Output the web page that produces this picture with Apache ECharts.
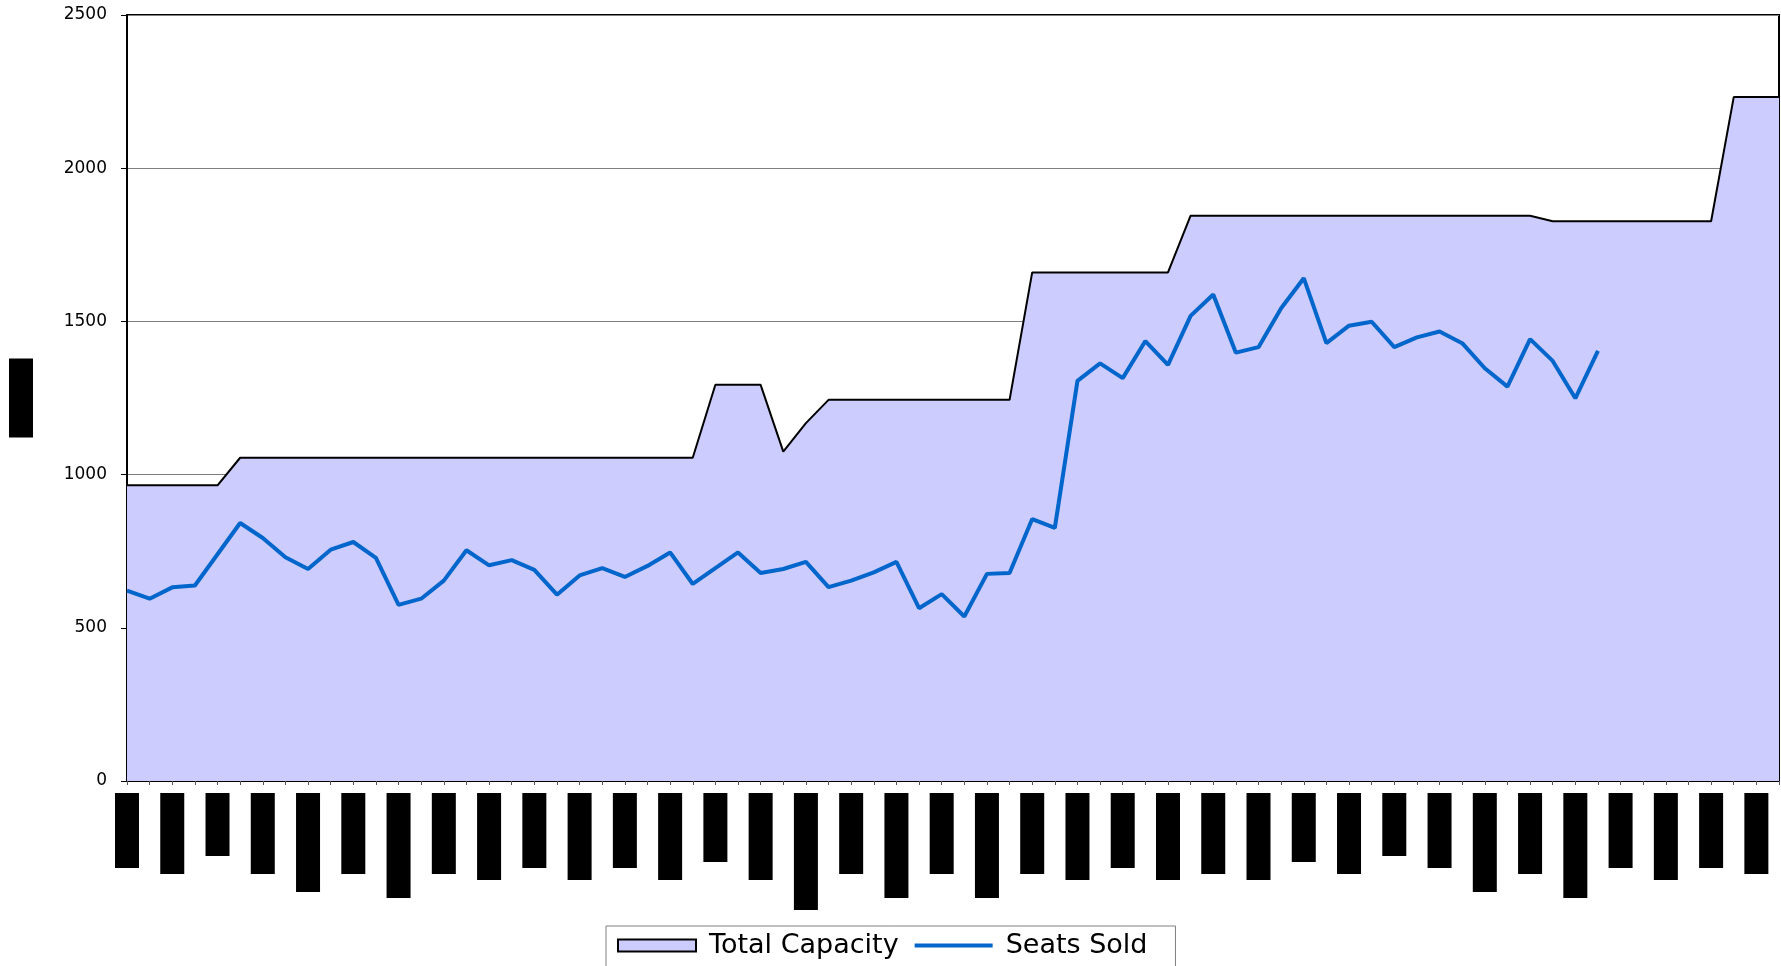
<!DOCTYPE html>
<html>
<head>
<meta charset="utf-8">
<script src="https://cdn.jsdelivr.net/npm/echarts@6/dist/echarts.min.js"></script>
<style>
html,body{margin:0;padding:0;background:#fff;}
#chart{width:1781px;height:966px;}
</style>
</head>
<body>
<div id="chart"></div>
<script>
// Category (tick) labels – every other one is shown on the axis
const categories = [
  "Opening Week", "Opening Week II",
  "Spring Season", "Spring Season II",
  "Easter Run", "Easter Run II",
  "Summer Season", "Summer Season II",
  "Late Summer Show", "Late Summer Show II",
  "Autumn Season", "Autumn Season II",
  "Halloween Special", "Halloween Special II",
  "Winter Season", "Winter Season II",
  "Christmas Show", "Christmas Show II",
  "Holiday Week", "Holiday Week II",
  "New Year Revue", "New Year Revue II",
  "Spring Opera", "Spring Opera II",
  "Spring Musical", "Spring Musical II",
  "Easter Week", "Easter Week II",
  "Spring Recital", "Spring Recital II",
  "Summer Dance Series", "Summer Dance Series II",
  "August Season", "August Season II",
  "Autumn Gala Night", "Autumn Gala Night II",
  "October Opera", "October Opera II",
  "Halloween Matinee", "Halloween Matinee II",
  "November Show", "November Show II",
  "Christmas Gala", "Christmas Gala II",
  "Panto Season", "Panto Season II",
  "January Ballet", "January Ballet II",
  "Spring Series", "Spring Series II",
  "Easter Concert", "Easter Concert II",
  "Spring Play", "Spring Play II",
  "Comedy Season", "Comedy Season II",
  "Summer Run", "Summer Run II",
  "Summer Revue", "Summer Revue II",
  "Festival Special", "Festival Special II",
  "Autumn Series", "Autumn Series II",
  "Halloween Concert", "Halloween Concert II",
  "Winter Revue", "Winter Revue II",
  "Christmas Play", "Christmas Play II",
  "Holiday Gala", "Holiday Gala II",
  "Closing Night", "Closing Night II"
];

const totalCapacity = [
  965, 965, 965, 965, 965,
  1055, 1055, 1055, 1055, 1055, 1055, 1055, 1055, 1055, 1055,
  1055, 1055, 1055, 1055, 1055, 1055, 1055, 1055, 1055, 1055, 1055,
  1293, 1293, 1293,
  1075, 1168,
  1244, 1244, 1244, 1244, 1244, 1244, 1244, 1244, 1244,
  1660, 1660, 1660, 1660, 1660, 1660, 1660,
  1845, 1845, 1845, 1845, 1845, 1845, 1845, 1845,
  1845, 1845, 1845, 1845, 1845, 1845, 1845, 1845,
  1827, 1827, 1827, 1827, 1827, 1827, 1827, 1827,
  2232, 2232, 2232
];

const seatsSold = [
  621, 595, 632, 638, 740, 842, 793, 730, 692, 755,
  780, 728, 575, 595, 654, 753, 704, 721, 689, 608,
  671, 695, 666, 702, 746, 643, 695, 746, 679, 692,
  715, 633, 654, 681, 715, 564, 610, 537, 676, 679,
  855, 826, 1306, 1363, 1315, 1436, 1358, 1518, 1588, 1398,
  1416, 1543, 1641, 1429, 1486, 1499, 1416, 1448, 1467, 1429,
  1347, 1287, 1442, 1371, 1249, 1404,
  null, null, null, null, null, null, null, null
];

const seriesNames = ["Total Capacity", "Seats Sold"];
const yAxisTitle = "Seats";

const chart = echarts.init(document.getElementById('chart'), null, {renderer: 'canvas'});

const option = {
  backgroundColor: '#ffffff',
  animation: false,
  grid: {
    left: 126, right: 2, top: 15, bottom: 185,
    show: true,
    borderColor: '#000000',
    borderWidth: 2,
    backgroundColor: 'transparent'
  },
  legend: {
    left: 606,
    top: 926,
    orient: 'horizontal',
    itemWidth: 78,
    itemHeight: 12,
    itemGap: 16,
    symbolKeepAspect: true,
    padding: [6, 28, 24, 11],
    borderColor: '#808080',
    borderWidth: 1,
    backgroundColor: '#ffffff',
    textStyle: {
      fontFamily: 'DejaVu Sans',
      fontSize: 27,
      color: '#000000',
      padding: [0, 0, 0, 8]
    },
    data: [
      {name: seriesNames[0], icon: 'rect',
       itemStyle: {color: '#CCCCFF', borderColor: '#000000', borderWidth: 2}},
      {name: seriesNames[1], icon: 'path://M0,0L100,0L100,5L0,5Z',
       itemStyle: {color: '#0066CC', borderWidth: 0}}
    ]
  },
  xAxis: {
    type: 'category',
    data: categories,
    boundaryGap: false,
    axisLine: {show: true, lineStyle: {color: '#000000', width: 2}},
    axisTick: {show: true, interval: 0, length: 4, lineStyle: {color: '#555555', width: 1}},
    axisLabel: {
      interval: 1,
      rotate: 90,
      margin: 12,
      fontFamily: 'Liberation Mono',
      fontSize: 10,
      lineHeight: 24,
      color: '#000000',
      backgroundColor: '#000000',
      padding: [0, 1, 0, 2]
    },
    splitLine: {show: false}
  },
  yAxis: {
    type: 'value',
    min: 0,
    max: 2500,
    interval: 500,
    name: yAxisTitle,
    nameLocation: 'middle',
    nameGap: 94,
    nameRotate: 90,
    nameTextStyle: {
      fontFamily: 'Liberation Mono',
      fontSize: 26,
      lineHeight: 24,
      color: '#000000',
      backgroundColor: '#000000',
      padding: [0, 1, 0, 0]
    },
    axisLine: {show: true, lineStyle: {color: '#000000', width: 2}},
    axisTick: {show: true, length: 6, lineStyle: {color: '#000000', width: 1}},
    axisLabel: {
      margin: 20,
      fontFamily: 'DejaVu Sans',
      fontSize: 17,
      color: '#000000',
      formatter: function (v) { return String(v); }
    },
    splitLine: {show: true, lineStyle: {color: '#7f7f7f', width: 1}}
  },
  series: [
    {
      name: seriesNames[0],
      type: 'line',
      data: totalCapacity,
      color: '#CCCCFF',
      symbol: 'none',
      lineStyle: {color: '#000000', width: 2},
      areaStyle: {color: '#CCCCFF', opacity: 1},
      z: 2
    },
    {
      name: seriesNames[1],
      type: 'line',
      data: seatsSold,
      color: '#0066CC',
      symbol: 'none',
      connectNulls: false,
      lineStyle: {color: '#0066CC', width: 4},
      z: 3
    }
  ]
};

chart.setOption(option);
</script>
</body>
</html>
